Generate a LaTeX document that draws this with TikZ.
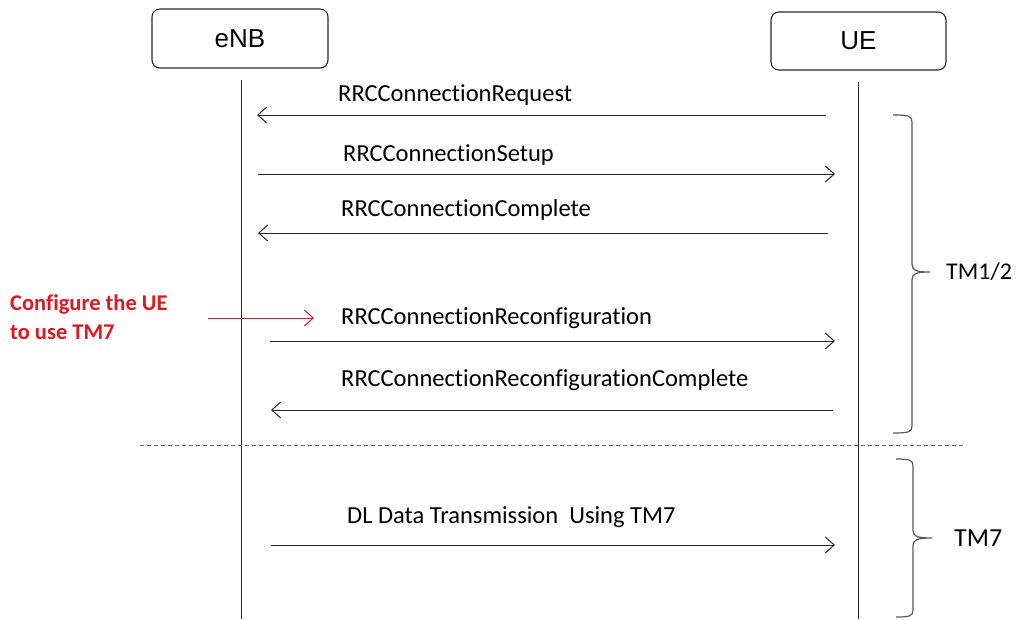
\documentclass[tikz,border=0pt]{standalone}
\usepackage{fontspec}
\setmainfont{Carlito}[Ligatures=NoCommon]
\newfontfamily\boxfont{Liberation Sans}
\usetikzlibrary{arrows.meta}
\definecolor{cfgred}{RGB}{222,24,30}
\definecolor{ln}{RGB}{40,40,40}
\tikzset{
  actor/.style={draw=ln, line width=1.1pt, rounded corners=8pt, font=\boxfont\fontsize{26}{30}\selectfont, text=black},
  life/.style={draw=ln, line width=1pt},
  msg/.style={draw=ln, line width=1pt, -{Straight Barb[length=9pt,width=16pt,line width=1pt]}},
  msglabel/.style={anchor=base west, inner sep=0pt, font=\fontsize{24.5}{28}\selectfont, text=black},
  bracestyle/.style={draw=black!65, line width=1.2pt},
  tmlabel/.style={anchor=west, inner sep=0pt, text=black}
}
\begin{document}
\begin{tikzpicture}[x=1pt,y=-1pt]
\useasboundingbox[fill=white] (0,0) rectangle (1023,619);
% actors
\node[actor, minimum width=176pt, minimum height=59pt] (enb) at (240,38.5) {eNB};
\node[actor, minimum width=175pt, minimum height=58pt] (ue) at (858.5,41) {UE};
% lifelines
\coordinate (enbTop) at (241,80);
\coordinate (enbBot) at (241,619);
\coordinate (ueTop) at (858,82);
\coordinate (ueBot) at (858,619);
\draw[life] (enbTop) -- (enbBot);
\draw[life] (ueTop) -- (ueBot);
% message end points
\coordinate (m1a) at (826,115); \coordinate (m1b) at (257,115);
\coordinate (m2a) at (258,174); \coordinate (m2b) at (835,174);
\coordinate (m3a) at (828,233); \coordinate (m3b) at (258,233);
\coordinate (m4a) at (270,341); \coordinate (m4b) at (835,341);
\coordinate (m5a) at (833,410); \coordinate (m5b) at (271,410);
\coordinate (m6a) at (271,545); \coordinate (m6b) at (835,545);
\draw[msg] (m1a) -- (m1b);
\draw[msg] (m2a) -- (m2b);
\draw[msg] (m3a) -- (m3b);
\draw[msg] (m4a) -- (m4b);
\draw[msg] (m5a) -- (m5b);
\draw[msg] (m6a) -- (m6b);
\node[msglabel] (l1) at (338,101) {RRCConnectionRequest};
\node[msglabel] (l2) at (343,161) {RRCConnectionSetup};
\node[msglabel] (l3) at (341,216) {RRCConnectionComplete};
\node[msglabel] (l4) at (341,324) {RRCConnectionReconfiguration};
\node[msglabel] (l5) at (341,386) {RRCConnectionReconfigurationComplete};
\node[msglabel] (l6) at (347,523) {DL Data Transmission\ \ Using TM7};
% red annotation
\node[anchor=base west, inner sep=0pt, align=left, text=cfgred, font=\bfseries\fontsize{22.5}{29}\selectfont] (cfg) at (10,339) {Configure\ the\ UE\\to use TM7};
\coordinate (ra) at (208,318); \coordinate (rb) at (314,318);
\draw[draw=cfgred, line width=1pt, -{Straight Barb[length=9pt,width=16pt,line width=1pt]}] (ra) -- (rb);
% separator
\coordinate (sepL) at (140,445); \coordinate (sepR) at (965,445);
\draw[draw=black!60, line width=1pt, dash pattern=on 4pt off 3pt] (sepL) -- (sepR);
% braces
\coordinate (b1t) at (893,115); \coordinate (b1tip) at (930,272); \coordinate (b1b) at (893,433);
\coordinate (b2t) at (896,459); \coordinate (b2tip) at (932,538); \coordinate (b2b) at (896,617);
\draw[bracestyle] (b1t) .. controls (909,115) and (912,116) .. (912,122) -- (912,264)
  .. controls (912,270) and (915,272) .. (b1tip)
  .. controls (915,272) and (912,274) .. (912,280) -- (912,426)
  .. controls (912,432) and (909,433) .. (b1b);
\draw[bracestyle] (b2t) .. controls (910,459) and (913,460) .. (913,466) -- (913,530)
  .. controls (913,536) and (916,538) .. (b2tip)
  .. controls (916,538) and (913,540) .. (913,546) -- (913,610)
  .. controls (913,616) and (910,617) .. (b2b);
\node[tmlabel, font=\fontsize{24}{28}\selectfont] (tm12) at (946,272) {TM1/2};
\node[tmlabel, font=\fontsize{26}{30}\selectfont] (tm7) at (954,538) {TM7};
\end{tikzpicture}
\end{document}
